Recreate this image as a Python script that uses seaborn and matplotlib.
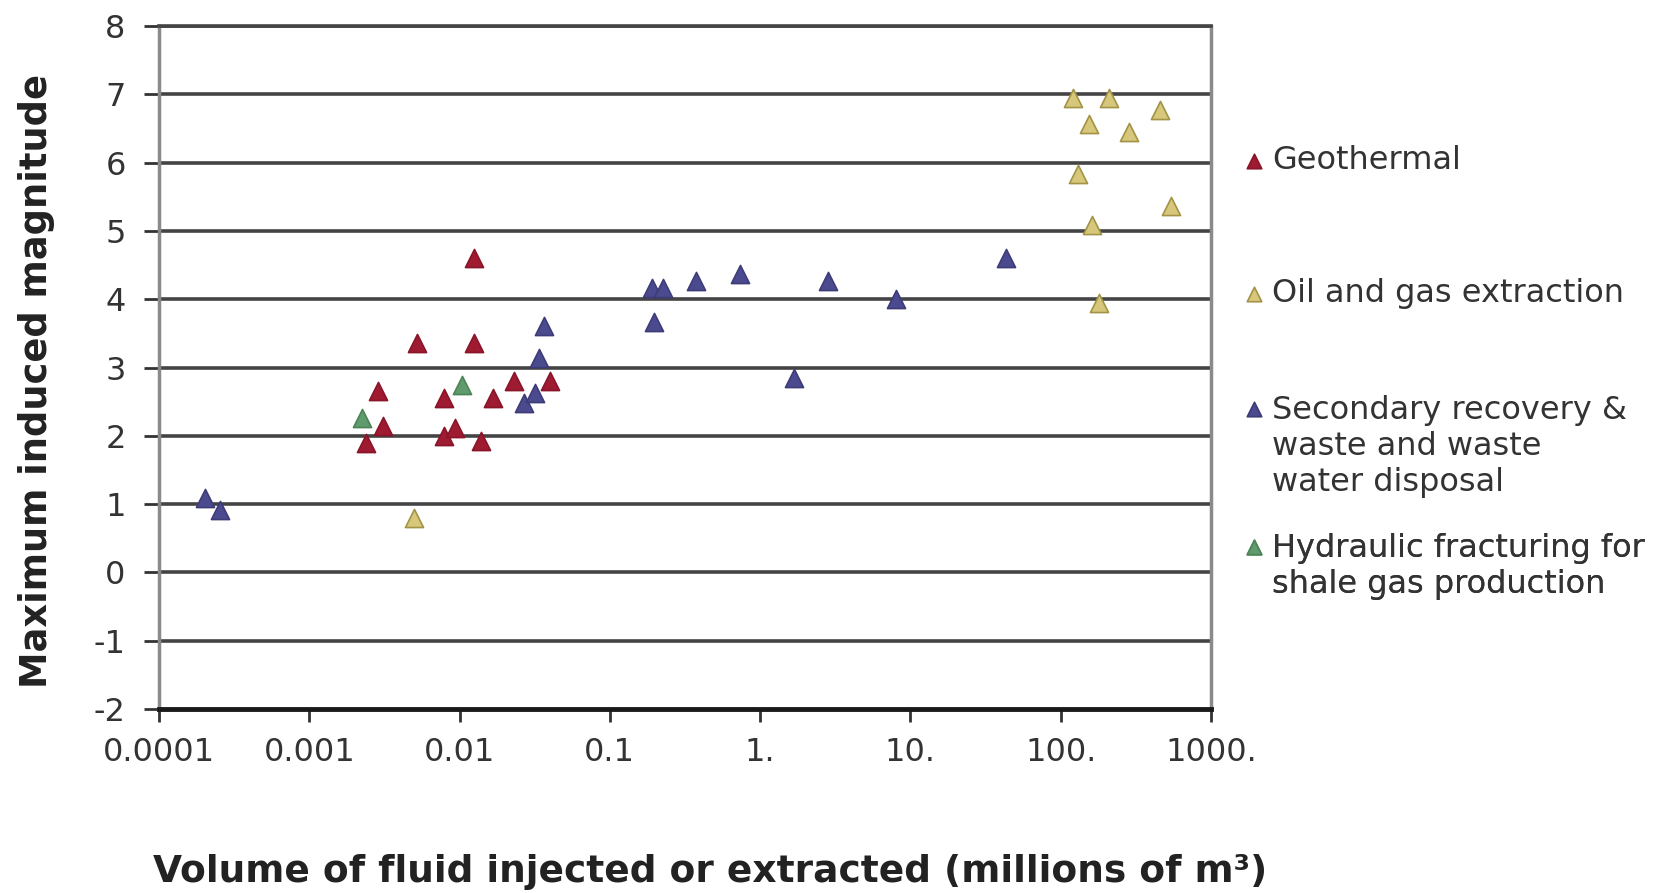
import pandas as pd
import seaborn as sns
import matplotlib.pyplot as plt

# values (volume in millions of m3, max magnitude)
geo_vol = [0.0125, 0.0052, 0.0125, 0.00285, 0.0079, 0.0168, 0.0230, 0.0400,
           0.0031, 0.0024, 0.0079, 0.0093, 0.0138]
geo_mag = [4.61, 3.36, 3.36, 2.65, 2.55, 2.55, 2.80, 2.80,
           2.14, 1.90, 1.99, 2.12, 1.92]

oil_vol = [0.0050, 121, 211, 155, 286, 459, 131, 161, 540, 181]
oil_mag = [0.80, 6.94, 6.94, 6.57, 6.45, 6.77, 5.84, 5.09, 5.37, 3.95]

sec_vol = [0.000203, 0.000255, 0.027, 0.0318, 0.0338, 0.0365, 0.191, 0.225,
           0.196, 0.373, 0.734, 2.83, 8.07, 1.68, 43.3]
sec_mag = [1.09, 0.92, 2.48, 2.63, 3.14, 3.61, 4.16, 4.16,
           3.67, 4.27, 4.37, 4.27, 4.00, 2.85, 4.60]

hyd_vol = [0.00224, 0.0103]
hyd_mag = [2.26, 2.74]

labels = ['Geothermal', 'Oil and gas extraction',
          'Secondary recovery &\nwaste and waste\nwater disposal',
          'Hydraulic fracturing for\nshale gas production']
x_ticks = [0.0001, 0.001, 0.01, 0.1, 1, 10, 100, 1000]
x_tick_labels = ['0.0001', '0.001', '0.01', '0.1', '1.', '10.', '100.', '1000.']
y_ticks = list(range(-2, 9))

df = pd.concat([
    pd.DataFrame({'vol': geo_vol, 'mag': geo_mag, 'src': labels[0]}),
    pd.DataFrame({'vol': oil_vol, 'mag': oil_mag, 'src': labels[1]}),
    pd.DataFrame({'vol': sec_vol, 'mag': sec_mag, 'src': labels[2]}),
    pd.DataFrame({'vol': hyd_vol, 'mag': hyd_mag, 'src': labels[3]}),
])

fills = ['#9e1b32', '#d6c77a', '#4b4a8e', '#5f9b6c']
edges = ['#8a1428', '#a39346', '#3d3c78', '#4c8458']

sns.set_style('white')
plt.rcParams['font.family'] = ['DejaVu Sans']
plt.rcParams['axes.unicode_minus'] = False

fig = plt.figure(figsize=(16.69, 8.93), dpi=100)
ax = fig.add_axes([159 / 1669, 1 - 709 / 893, 1052 / 1669, 683 / 893])

for i, lab in enumerate(labels):
    sub = df[df['src'] == lab]
    sns.scatterplot(data=sub, x='vol', y='mag', ax=ax, marker='^', s=170,
                    color=fills[i], edgecolor=edges[i], linewidth=1.2,
                    label=lab, zorder=3)

ax.set_xscale('log')
ax.set_xlim(1e-4, 1e3)
ax.set_ylim(-2, 8)
ax.set_xticks(x_ticks)
ax.set_xticklabels(x_tick_labels)
ax.minorticks_off()
ax.set_yticks(y_ticks)
ax.set_xlabel('')
ax.set_ylabel('')

# horizontal gridlines at every unit
for yv in y_ticks[1:]:
    ax.axhline(yv, color='#444444', lw=2.6, zorder=1)

for side in ['left', 'right']:
    ax.spines[side].set_color('#8a8a8a')
    ax.spines[side].set_linewidth(2.5)
ax.spines['top'].set_color('#444444')
ax.spines['top'].set_linewidth(2.6)
ax.spines['bottom'].set_color('#1a1a1a')
ax.spines['bottom'].set_linewidth(3.5)

ax.tick_params(axis='y', direction='out', length=11, width=2, color='#333333',
               pad=13, labelsize=23, labelcolor='#333333', left=True)
ax.tick_params(axis='x', direction='out', length=9, width=2, color='#333333',
               pad=11, labelsize=23, labelcolor='#333333', bottom=True)

fig.text(37 / 1669, 1 - 381 / 893, 'Maximum induced magnitude', rotation=90,
         ha='center', va='center', fontsize=26.5, fontweight='bold',
         color='#222222')
fig.text(710 / 1669, 1 - 872 / 893,
         'Volume of fluid injected or extracted (millions of m³)',
         ha='center', va='center', fontsize=27, fontweight='bold',
         color='#222222')

# legend entries placed like the original (one legend per series)
handles, labs = ax.get_legend_handles_labels()
ax.get_legend().remove()
tops = [145, 278, 395, 533]
for h, l, t in zip(handles, labs, tops):
    leg = ax.legend([h], [l], loc='upper left',
                    bbox_to_anchor=(1244 / 1669, 1 - t / 893),
                    bbox_transform=fig.transFigure, frameon=False,
                    fontsize=23, handlelength=0.65, handletextpad=0.22,
                    borderpad=0, borderaxespad=0, markerscale=0.8,
                    labelcolor='#333333')
    if '\n' in l:
        # marker next to the first line of text, as in the original
        for col in leg._legend_handle_box.get_children():
            for item in col.get_children():
                item.align = 'top'
    ax.add_artist(leg)

fig.savefig('out.png', dpi=100, facecolor='white')
